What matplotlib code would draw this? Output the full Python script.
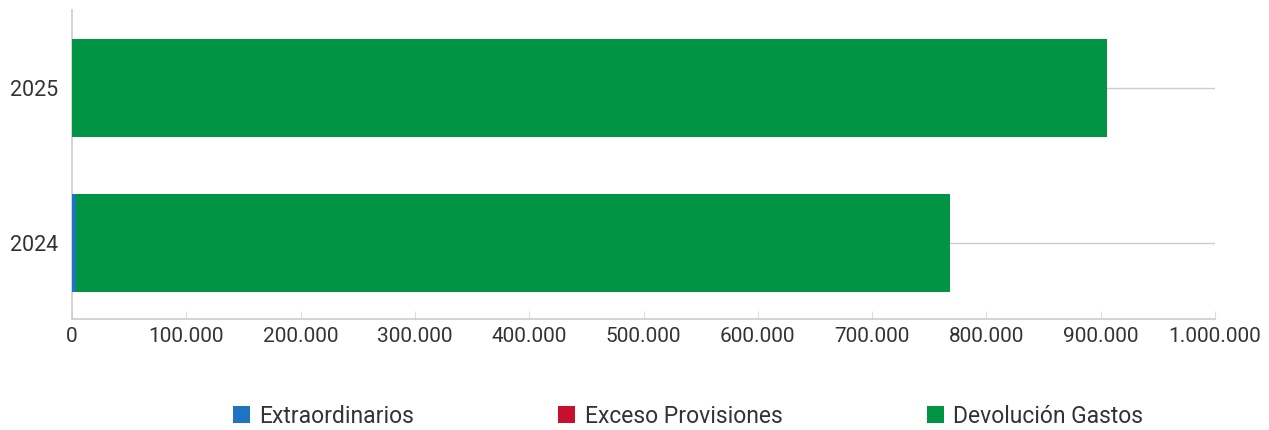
import matplotlib
matplotlib.use("Agg")
import matplotlib.pyplot as plt
import matplotlib.ticker as mtick

years = ["2024", "2025"]
extraordinarios = [3500, 0]
exceso_provisiones = [0, 0]
devolucion_gastos = [764500, 905500]

series_labels = ["Extraordinarios", "Exceso Provisiones", "Devolución Gastos"]
colors = ["#1F74C1", "#C8102E", "#009444"]

plt.rcParams["font.family"] = ["Roboto", "DejaVu Sans"]

fig = plt.figure(figsize=(12.69, 4.30), dpi=100)
ax = fig.add_axes([0.0567, 0.258, 0.9008, 0.719])

pos = list(range(len(years)))
left = [0] * len(years)
for vals, label, color in zip([extraordinarios, exceso_provisiones, devolucion_gastos],
                              series_labels, colors):
    ax.barh(pos, vals, left=left, height=0.635, color=color, label=label, zorder=3)
    left = [a + b for a, b in zip(left, vals)]

ax.set_xlim(0, 1000000)
ax.set_ylim(-0.49, 1.505)
ax.set_yticks(pos)
ax.set_yticklabels(years)
ax.xaxis.set_major_locator(mtick.MultipleLocator(100000))
ax.xaxis.set_major_formatter(mtick.FuncFormatter(lambda v, p: f"{int(v):,}".replace(",", ".")))

ax.grid(axis="y", color="#cccccc", linewidth=1, zorder=0)
for s in ["top", "right"]:
    ax.spines[s].set_visible(False)
for s in ["left", "bottom"]:
    ax.spines[s].set_color("#cccccc")
    ax.spines[s].set_linewidth(1.2)

ax.tick_params(axis="x", direction="in", length=6, color="#dddddd",
               labelsize=15, labelcolor="#333333", pad=6)
ax.tick_params(axis="y", length=0, labelsize=15.5, labelcolor="#333333", pad=10)

fig.legend(loc="center", bbox_to_anchor=(0.542, 0.032), ncol=3, frameon=False,
           fontsize=16.5, labelcolor="#333333", handlelength=0.75, handleheight=0.75,
           handletextpad=0.4, columnspacing=6.3)

fig.savefig("out.png", dpi=100)
